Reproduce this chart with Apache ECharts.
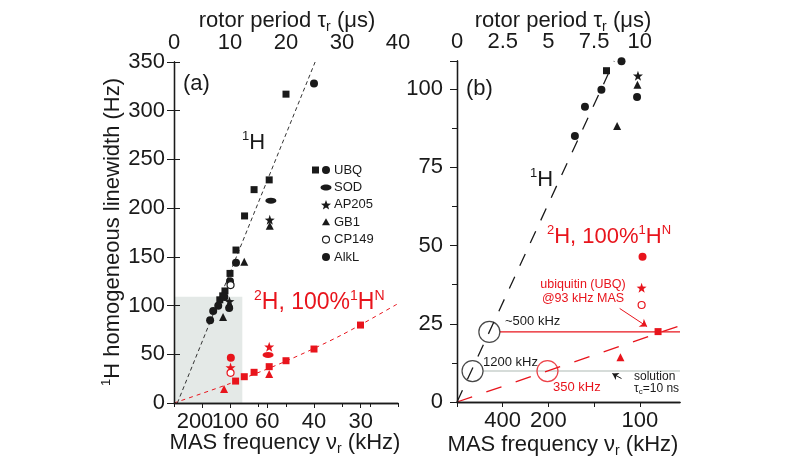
<!DOCTYPE html>
<html><head><meta charset="utf-8">
<script src="https://cdn.jsdelivr.net/npm/echarts@6/dist/echarts.min.js"></script>
<style>html,body{margin:0;padding:0;background:#fff}#c{width:810px;height:467px}</style>
</head><body><div id="c"></div>
<script>
// ---- data: [rotor period tau_r (us), 1H homogeneous linewidth (Hz)] ----
const ubqSquares1H   = [[20.0,317],[17.0,229],[14.3,219],[12.6,192],[11.07,157],[10.0,133],[9.1,115],[8.7,110],[8.18,105.9]];
const circles1H      = [[25.0,328],[11.07,144],[10.0,125],[9.0,108.9],[7.9,99.8],[7.0,94.4],[6.45,85],[9.85,97.5]];
const sod1H          = [[17.3,207.7]];
const ap205_1H       = [[17.1,188],[9.9,104.3]];
const gb1_1H         = [[17.1,182],[12.55,145],[9.87,101.4],[8.76,88.2]];
const cp149_1H       = [[10.1,121]];

const ubqSquares2H   = [[11.0,22.5],[12.55,27],[14.3,31.5],[17.0,37.3],[20.0,43.4],[25.0,55.4],[33.3,80]];
const circles2H      = [[10.15,46.4]];
const sod2H          = [[16.8,49.3]];
const ap205_2H       = [[10.1,36.5],[17.0,57.8]];
const gb1_2H         = [[8.94,14.3],[17.0,29.8]];
const cp149_2H       = [[10.1,31]];

// guide lines
const fit1H_A  = [[0.6,0],[25.2,350]];
const fit2H_A  = [[0,0],[10,20],[20,43],[30,70],[40,102]];
const fit1H_B  = [[0,0],[8.6,109]];
const fit2H_B  = [[0,0],[12.2,24.4]];
const ubqLevel = [[2.35,22.4],[12.2,22.4]];
const solutionLevel = [[1.42,9.9],[12.2,9.9]];
const circles1HMarks = [[0.85,9.9],[1.77,22.4]];
const circles2HMarks = [[4.95,9.9]];

// axes
const periodRangeA = [0,40];
const periodTicksA = [0,5,10,15,20,25,30,35,40];
const periodLabelsA = [0,10,20,30,40];
const masFreqA = [200,100,60,40,30];
const lwRangeA = [0,350];
const periodRangeB = [0,12.2];
const periodTicksB = [0,2.5,5,7.5,10];
const masFreqB = [400,200,100];
const lwRangeB = [0,109];

const red = '#e8141c', ink = '#1a1a1a';
const FF = "'Liberation Sans', Arial, Helvetica, sans-serif";
const starPath = 'path://M0,-10L2.35,-3.24L9.51,-3.09L3.8,1.24L5.88,8.09L0,4L-5.88,8.09L-3.8,1.24L-9.51,-3.09L-2.35,-3.24Z';

const axisLine = {lineStyle:{color:ink,width:1.3}};
const lbl = (extra) => Object.assign({color:ink,fontSize:22,fontFamily:FF,hideOverlap:false}, extra);
const toPeriod = f => 1000/f;
const toFreq = v => String(Math.round(1000/v));

const xAxis = [
  {gridIndex:0, type:'value', position:'top', min:periodRangeA[0], max:periodRangeA[1], z:10,
   axisLine, splitLine:{show:false},
   axisTick:{customValues:periodTicksA, inside:true, length:4, lineStyle:{color:ink}},
   axisLabel:lbl({customValues:periodLabelsA, margin:8})},
  {gridIndex:0, type:'value', position:'bottom', min:periodRangeA[0], max:periodRangeA[1], z:10,
   axisLine, splitLine:{show:false},
   axisTick:{customValues:masFreqA.map(toPeriod), length:5, lineStyle:{color:ink}},
   axisLabel:lbl({customValues:masFreqA.slice(1).map(toPeriod), margin:8, formatter:toFreq})},
  {gridIndex:1, type:'value', position:'top', min:periodRangeB[0], max:periodRangeB[1], z:10,
   axisLine, splitLine:{show:false},
   axisTick:{customValues:periodTicksB, inside:true, length:5, lineStyle:{color:ink}},
   axisLabel:lbl({customValues:periodTicksB, margin:8})},
  {gridIndex:1, type:'value', position:'bottom', min:periodRangeB[0], max:periodRangeB[1], z:10,
   axisLine, splitLine:{show:false},
   axisTick:{customValues:masFreqB.map(toPeriod), length:5, lineStyle:{color:ink}},
   axisLabel:lbl({customValues:masFreqB.map(toPeriod), margin:8, formatter:toFreq})},
  // separate carrier for the crowded "200" label of panel (a)
  {gridIndex:0, type:'value', position:'bottom', offset:0, min:periodRangeA[0], max:periodRangeA[1], z:10,
   axisLine:{show:false}, splitLine:{show:false}, axisTick:{show:false},
   axisLabel:lbl({customValues:masFreqA.slice(0,1).map(toPeriod), margin:8, padding:[0,14,0,0], formatter:toFreq})}
];
const yAxis = [
  {gridIndex:0, type:'value', position:'left', min:lwRangeA[0], max:lwRangeA[1], interval:50, z:10,
   axisLine, splitLine:{show:false},
   axisTick:{length:7, lineStyle:{color:ink}}, axisLabel:lbl({margin:9})},
  {gridIndex:0, type:'value', position:'right', min:lwRangeA[0], max:lwRangeA[1], interval:50, z:10,
   axisLine, splitLine:{show:false},
   axisTick:{length:6, lineStyle:{color:ink}}, axisLabel:{show:false}},
  {gridIndex:1, type:'value', position:'left', min:lwRangeB[0], max:lwRangeB[1], interval:25, z:10,
   axisLine, splitLine:{show:false},
   axisTick:{length:7, lineStyle:{color:ink}},
   minorTick:{show:true, splitNumber:2, length:5, lineStyle:{color:ink}},
   axisLabel:lbl({margin:14, formatter:v=>(v%25===0?String(v):'')})},
  {gridIndex:1, type:'value', position:'right', min:lwRangeB[0], max:lwRangeB[1], z:10,
   axisLine, splitLine:{show:false}, axisTick:{show:false}, axisLabel:{show:false}}
];

const series = [];
function scat(data, symbol, size, color, open, panel){
  const ix = panel===0 ? 0 : 2;
  series.push({type:'scatter', data, symbol, symbolSize:size, xAxisIndex:ix, yAxisIndex:ix, z:5, silent:true, clip:true,
    itemStyle: open ? {color:'#fff', borderColor:color, borderWidth:1.2, opacity:1} : {color, opacity:1}});
}
function line(data, color, width, type, panel, extra){
  const ix = panel===0 ? 0 : 2;
  series.push(Object.assign({type:'line', data, xAxisIndex:ix, yAxisIndex:ix, symbol:'none', silent:true, z:3,
    lineStyle:{color, width, type}}, extra||{}));
}
// shaded zoom region in (a)
line([], ink, 1, 'solid', 0, {z:1, markArea:{silent:true, itemStyle:{color:'#e4e9e7'},
  data:[[{coord:[periodRangeB[0],lwRangeB[0]]},{coord:[periodRangeB[1],lwRangeB[1]]}]]}});
for (const p of [0,1]){
  if (p===0){
    line(fit1H_A, '#333', 1, [4,3], 0);
    line(fit2H_A, red, 1, [4,4], 0, {smooth:0.3});
  } else {
    line(fit1H_B, ink, 1.3, [13,12], 1);
    line(fit2H_B, red, 1.3, [16,15], 1);
    line(solutionLevel, '#c9d1cd', 1.5, 'solid', 1, {z:2});
    line(ubqLevel, red, 1.2, 'solid', 1, {z:2});
    line([], red, 1, 'solid', 1, {markLine:{silent:true, symbol:['none','arrow'], symbolSize:7,
      label:{show:false}, lineStyle:{color:red, width:1, type:'solid'},
      data:[[{coord:[8.9,29.9]},{coord:[10.4,24.1]}]]}});
    line([], ink, 1, 'solid', 1, {markLine:{silent:true, symbol:['none','arrow'], symbolSize:6,
      label:{show:false}, lineStyle:{color:ink, width:1, type:'solid'},
      data:[[{coord:[9.0,7.5]},{coord:[8.5,9.1]}]]}});
    series.push({type:'scatter', data:circles1HMarks, symbol:'circle', symbolSize:21, xAxisIndex:2, yAxisIndex:2, z:4, silent:true,
      itemStyle:{color:'rgba(0,0,0,0)', borderColor:ink, borderWidth:1.2}});
    series.push({type:'scatter', data:circles2HMarks, symbol:'circle', symbolSize:21, xAxisIndex:2, yAxisIndex:2, z:4, silent:true,
      itemStyle:{color:'rgba(0,0,0,0)', borderColor:red, borderWidth:1.2}});
  }
  scat(gb1_1H, 'triangle', 8, ink, false, p);
  scat(ubqSquares1H, 'rect', 7, ink, false, p);
  scat(circles1H, 'circle', 8, ink, false, p);
  scat(sod1H, 'circle', [11,6], ink, false, p);
  scat(ap205_1H, starPath, 10, ink, false, p);
  scat(cp149_1H, 'circle', 7, ink, true, p);
  scat(gb1_2H, 'triangle', 8, red, false, p);
  scat(ubqSquares2H, 'rect', 7, red, false, p);
  scat(circles2H, 'circle', 8, red, false, p);
  scat(sod2H, 'circle', [11,6], red, false, p);
  scat(ap205_2H, starPath, 10, red, false, p);
  scat(cp149_2H, 'circle', 7, red, true, p);
}

// ---- text & legend (graphic) ----
const T = (x,y,text,opt) => ({type:'text', x, y, z:20, silent:true,
  style:Object.assign({text, fill:ink, fontSize:22, fontFamily:FF, align:'left', verticalAlign:'middle'}, opt||{})});
const rich = (fs, color) => ({
  m:{fontSize:fs, fontFamily:FF, fill:color, lineHeight:fs+4, verticalAlign:'middle'},
  sup:{fontSize:Math.round(fs*0.6), fontFamily:FF, fill:color, verticalAlign:'top', lineHeight:Math.round(fs*0.6)},
  sub:{fontSize:Math.round(fs*0.62), fontFamily:FF, fill:color, verticalAlign:'bottom', lineHeight:Math.round(fs*0.62)}
});
const graphic = [
  T(287,21,'{m|rotor period τ}{sub|r}{m| (μs)}',{align:'center', rich:rich(22,ink)}),
  T(563,21,'{m|rotor period τ}{sub|r}{m| (μs)}',{align:'center', rich:rich(22,ink)}),
  T(285,443,'{m|MAS frequency ν}{sub|r}{m| (kHz)}',{align:'center', rich:rich(22,ink)}),
  T(563,445,'{m|MAS frequency ν}{sub|r}{m| (kHz)}',{align:'center', rich:rich(22,ink)}),
  {type:'text', x:113, y:232, rotation:Math.PI/2, z:20, silent:true,
   style:{text:'{sup|1}{m|H homogeneous linewidth (Hz)}', rich:rich(22,ink), align:'center', verticalAlign:'middle'}},
  T(183,84,'(a)'),
  T(242,143,'{sup|1}{m|H}',{rich:rich(22,ink)}),
  T(254,303,'{sup|2}{m|H, 100%}{sup|1}{m|H}{sup|N}',{rich:rich(23,red)}),
  T(466,89,'(b)'),
  T(530,180,'{sup|1}{m|H}',{rich:rich(22,ink)}),
  T(547,237,'{sup|2}{m|H, 100%}{sup|1}{m|H}{sup|N}',{rich:rich(22,red)}),
  T(583,285,'ubiquitin (UBQ)',{fill:red, fontSize:12.5, align:'center'}),
  T(583,299,'@93 kHz MAS',{fill:red, fontSize:12.5, align:'center'}),
  T(505,321,'~500 kHz',{fontSize:13}),
  T(483,362,'1200 kHz',{fontSize:13}),
  T(553,387,'350 kHz',{fill:red, fontSize:13}),
  T(634,377,'solution',{fontSize:12}),
  T(634,389,'{a|τ}{b|c}{a|=10 ns}',{rich:{a:{fontSize:12,fontFamily:FF,fill:ink,lineHeight:14}, b:{fontSize:8,fontFamily:FF,fill:ink,verticalAlign:'bottom',lineHeight:8}}})
];
// legend in (a)
const legendNames = ['UBQ','SOD','AP205','GB1','CP149','AlkL'];
const lx = 326, ly0 = 170, ldy = 17.4;
legendNames.forEach((n,i)=>{ graphic.push(T(334, ly0+i*ldy, n, {fontSize:13})); });
graphic.push({type:'rect', shape:{x:312,y:166.5,width:7,height:7}, style:{fill:ink}, z:20, silent:true});
graphic.push({type:'circle', shape:{cx:lx,cy:ly0,r:4}, style:{fill:ink}, z:20, silent:true});
graphic.push({type:'ellipse', shape:{cx:lx,cy:ly0+ldy,rx:5.5,ry:3}, style:{fill:ink}, z:20, silent:true});
(function(){ const cx=lx, cy=ly0+2*ldy+0.5, pts=[];
  for(let k=0;k<10;k++){ const r=k%2?2.2:5.3, a=-Math.PI/2+k*Math.PI/5; pts.push([cx+r*Math.cos(a), cy+r*Math.sin(a)]); }
  graphic.push({type:'polygon', shape:{points:pts}, style:{fill:ink}, z:20, silent:true}); })();
graphic.push({type:'polygon', shape:{points:[[lx,ly0+3*ldy-4],[lx+4,ly0+3*ldy+3],[lx-4,ly0+3*ldy+3]]}, style:{fill:ink}, z:20, silent:true});
graphic.push({type:'circle', shape:{cx:lx,cy:ly0+4*ldy,r:3.5}, style:{fill:'#fff',stroke:ink,lineWidth:1.1}, z:20, silent:true});
graphic.push({type:'circle', shape:{cx:lx,cy:ly0+5*ldy,r:4}, style:{fill:ink}, z:20, silent:true});

const chart = echarts.init(document.getElementById('c'), null, {renderer:'canvas'});
chart.setOption({
  animation:false, backgroundColor:'#fff',
  textStyle:{fontFamily:FF},
  grid:[{left:174, top:62, width:224, height:341}, {left:457, top:61, width:223, height:341}],
  xAxis, yAxis, series, graphic
});
</script></body></html>
